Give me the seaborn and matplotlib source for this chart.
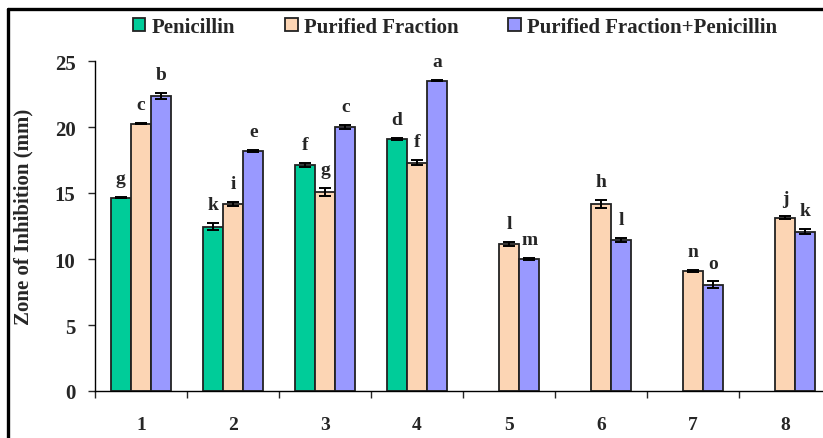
import numpy as np
import pandas as pd
import matplotlib
matplotlib.use("Agg")
import matplotlib.pyplot as plt
import seaborn as sns
from matplotlib.lines import Line2D

# ---- data ----
groups = ["1", "2", "3", "4", "5", "6", "7", "8"]
series = ["Penicillin", "Purified Fraction", "Purified Fraction+Penicillin"]
penicillin = [14.65, 12.45, 17.15, 19.12, np.nan, np.nan, np.nan, np.nan]
purified = [20.25, 14.15, 15.05, 17.30, 11.15, 14.15, 9.10, 13.12]
combo = [22.35, 18.20, 20.00, 23.52, 10.00, 11.42, 8.05, 12.08]
pen_err = [0.05, 0.25, 0.15, 0.08, np.nan, np.nan, np.nan, np.nan]
pur_err = [0.05, 0.15, 0.30, 0.20, 0.15, 0.30, 0.08, 0.10]
com_err = [0.25, 0.08, 0.15, 0.05, 0.05, 0.15, 0.25, 0.20]
pen_lab = ["g", "k", "f", "d", "", "", "", ""]
pur_lab = ["c", "i", "g", "f", "l", "h", "n", "j"]
com_lab = ["b", "e", "c", "a", "m", "l", "o", "k"]
colors = ["#00CC99", "#FCD5B4", "#9999FF"]

rows = []
for vals, errs, labs, s in [(penicillin, pen_err, pen_lab, series[0]),
                            (purified, pur_err, pur_lab, series[1]),
                            (combo, com_err, com_lab, series[2])]:
    for g, v, e, l in zip(groups, vals, errs, labs):
        rows.append({"group": g, "series": s, "value": v, "err": e, "lab": l})
df = pd.DataFrame(rows)

sns.set_style("ticks")
plt.rcParams["font.family"] = ["Liberation Serif", "DejaVu Serif"]
plt.rcParams["font.weight"] = "bold"

fig = plt.figure(figsize=(8.23, 4.39), dpi=100)
ax = fig.add_axes([95 / 823, 47 / 439, 736 / 823, 330 / 439])

sns.barplot(data=df, x="group", y="value", hue="series", order=groups,
            hue_order=series, palette=colors, saturation=1, width=0.66,
            errorbar=None, edgecolor="#222222", linewidth=1.3, ax=ax,
            legend=True)

# error bars and letters placed at bar positions from the library
for cont, s in zip(ax.containers, series):
    sub = df[df.series == s].set_index("group").loc[groups]
    for patch, (_, r) in zip(cont.patches, sub.iterrows()):
        if np.isnan(r["value"]):
            continue
        xc = patch.get_x() + patch.get_width() / 2
        ax.errorbar(xc, r["value"], yerr=r["err"], fmt="none", ecolor="black",
                    elinewidth=1.4, capsize=4, capthick=1.4, zorder=5)
        ax.text(xc, r["value"] + r["err"] + 0.75, r["lab"], ha="center",
                va="bottom", fontsize=14, fontweight="bold")

ax.set_ylim(0, 25)
ax.set_xlim(-0.5, 7.5)
ax.set_yticks([0, 5, 10, 15, 20, 25])
ax.tick_params(axis="y", length=5, width=1, pad=9, labelsize=15, direction="out")
ax.tick_params(axis="x", which="major", length=0, pad=18, labelsize=14)
ax.set_xticks(np.arange(-0.5, 8, 1), minor=True)
ax.tick_params(axis="x", which="minor", length=5, width=1, direction="out")
for lbl in ax.get_xticklabels() + ax.get_yticklabels():
    lbl.set_fontweight("bold")
ax.set_xlabel("")
ax.set_ylabel("Zone of Inhibition (mm)", fontsize=15, fontweight="bold")
ax.yaxis.set_label_coords(-0.084, 0.53)
sns.despine(ax=ax, top=True, right=True)
ax.spines["left"].set_linewidth(1.0)
ax.spines["bottom"].set_linewidth(1.0)
ax.spines["left"].set_color("black")
ax.spines["bottom"].set_color("black")
ax.spines["bottom"].set_zorder(6)

# legend
h, l = ax.get_legend_handles_labels()
ax.get_legend().remove()
fig.legend(h, l, loc="center", bbox_to_anchor=(0.553, 0.936), ncol=3,
           frameon=False, handlelength=0.6, handleheight=0.6,
           handletextpad=0.3, columnspacing=2.4,
           prop={"size": 15, "weight": "bold"})

# figure border (top and left)
bx, by = 8 / 823, 1 - 10 / 439
fig.add_artist(Line2D([bx, bx], [0, by], transform=fig.transFigure,
                      color="black", linewidth=2.4))
fig.add_artist(Line2D([bx, 1], [by, by], transform=fig.transFigure,
                      color="black", linewidth=2.4))

fig.savefig("out.png", dpi=100)
